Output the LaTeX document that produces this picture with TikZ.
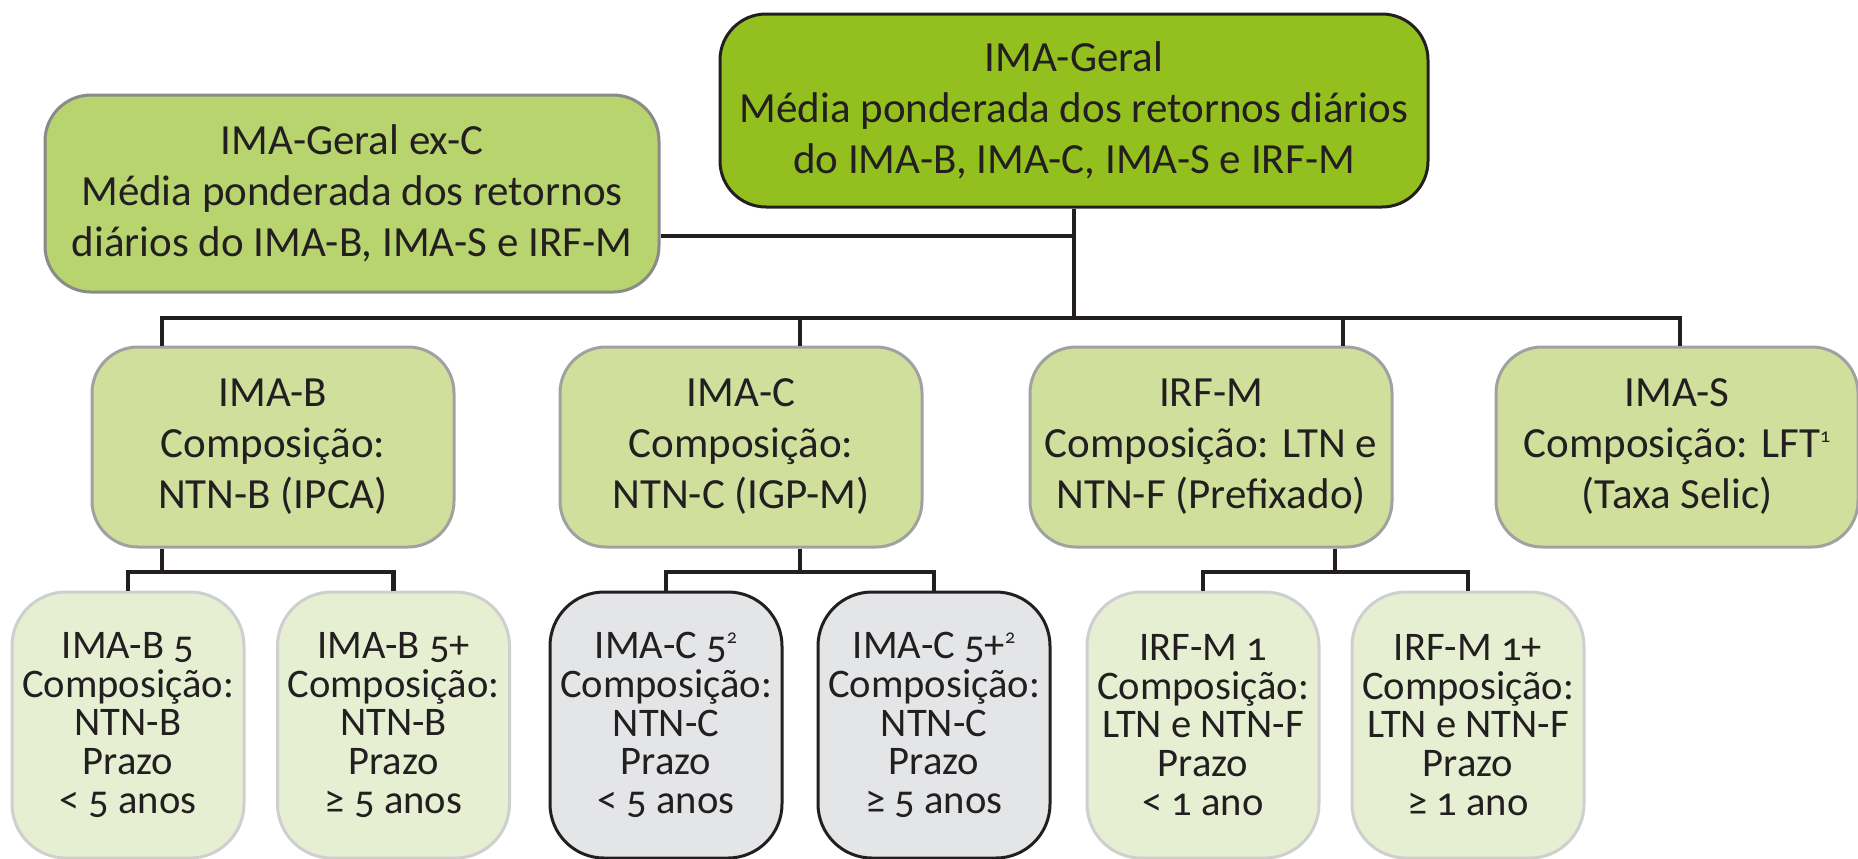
\documentclass[tikz,border=0pt]{standalone}
\usepackage{fontspec}
\setmainfont{Carlito}[Numbers=OldStyle]
\definecolor{topfill}{HTML}{93C01F}
\definecolor{excfill}{HTML}{B8D46E}
\definecolor{lvtwofill}{HTML}{D0E09C}
\definecolor{lvthreefill}{HTML}{E6EFD2}
\definecolor{grayfill}{HTML}{E4E5E7}
\definecolor{txt}{HTML}{231F20}
\definecolor{midgray}{HTML}{8A8A8A}
\definecolor{lightgray}{HTML}{CFCFCF}
\newcommand{\supnum}[1]{\raisebox{0.75ex}{\fontsize{10}{10}\selectfont #1}}
\tikzset{
  box/.style={rectangle, rounded corners=23pt, align=center, text=txt, inner sep=0pt},
  bigtext/.style={font=\fontsize{21.5}{25.5}\selectfont},
  smalltext/.style={font=\fontsize{20.3}{19.4}\selectfont},
  topbox/.style={box, bigtext, fill=topfill, draw=txt, line width=1.5pt, minimum width=354pt, minimum height=96.5pt},
  excbox/.style={box, bigtext, fill=excfill, draw=midgray, line width=1.5pt, minimum width=307pt, minimum height=98.5pt},
  lvtwo/.style={box, bigtext, fill=lvtwofill, draw=midgray!80, line width=1.5pt, minimum width=181pt, minimum height=100pt},
  lvthree/.style={box, smalltext, fill=lvthreefill, draw=lightgray, line width=1.5pt, minimum width=116pt, minimum height=133pt, rounded corners=27pt},
  graybox/.style={box, smalltext, fill=grayfill, draw=txt, line width=1.5pt, minimum width=116pt, minimum height=133pt, rounded corners=27pt},
  conn/.style={draw=txt, line width=2.4pt}
}
\begin{document}
\begin{tikzpicture}[x=0.5pt,y=-0.5pt]
\useasboundingbox (0,0) rectangle (1858,858);
% level 1
\node[topbox] (top) at (1074,110.5) {IMA-Geral\\Média ponderada dos retornos diários\\do IMA-B, IMA-C, IMA-S e IRF-M};
\node[excbox] (exc) at (352,193.5) {IMA-Geral ex-C\\Média ponderada dos retornos\\diários do IMA-B, IMA-S e IRF-M};
% level 2
\node[lvtwo] (imab) at (273,447) {IMA-B\\Composição:\\NTN-B (IPCA)};
\node[lvtwo] (imac) at (741,447) {IMA-C\\Composição:\\NTN-C (IGP-M)};
\node[lvtwo] (irfm) at (1211,447) {IRF-M\\Composição: LTN e\\NTN-F (Prefixado)};
\node[lvtwo] (imas) at (1677,447) {IMA-S\\Composição: LFT\supnum{1}\\(Taxa Selic)};
% level 3
\node[lvthree] (b5) at (128,725) {IMA-B 5\\Composição:\\NTN-B\\Prazo\\< 5 anos};
\node[lvthree] (b5p) at (393.5,725) {IMA-B 5+\\Composição:\\NTN-B\\Prazo\\≥ 5 anos};
\node[graybox] (c5) at (666,725) {IMA-C 5\supnum{2}\\Composição:\\NTN-C\\Prazo\\< 5 anos};
\node[graybox] (c5p) at (934,725) {IMA-C 5+\supnum{2}\\Composição:\\NTN-C\\Prazo\\≥ 5 anos};
\node[lvthree] (m1) at (1203,725) {IRF-M 1\\Composição:\\LTN e NTN-F\\Prazo\\< 1 ano};
\node[lvthree] (m1p) at (1468,725) {IRF-M 1+\\Composição:\\LTN e NTN-F\\Prazo\\≥ 1 ano};
% connector coordinates
\coordinate (excj) at (1074,236);
\coordinate (barL) at (162,318);
\coordinate (barC) at (800,318);
\coordinate (barM) at (1343,318);
\coordinate (barR) at (1680,318);
\coordinate (bsplit) at (162,572);
\coordinate (csplit) at (800,572);
\coordinate (msplit) at (1335,572);
% connectors
\draw[conn] (exc.east |- excj) -- (excj -| top.south);
\draw[conn] (top.south) -- (top.south |- barL);
\draw[conn] (barL |- imab.north) -- (barL) -- (barR) -- (barR |- imas.north);
\draw[conn] (barC) -- (barC |- imac.north);
\draw[conn] (barM) -- (barM |- irfm.north);
\draw[conn] (bsplit |- imab.south) -- (bsplit);
\draw[conn] (b5.north) -- (b5.north |- bsplit) -- (b5p.north |- bsplit) -- (b5p.north);
\draw[conn] (csplit |- imac.south) -- (csplit);
\draw[conn] (c5.north) -- (c5.north |- csplit) -- (c5p.north |- csplit) -- (c5p.north);
\draw[conn] (msplit |- irfm.south) -- (msplit);
\draw[conn] (m1.north) -- (m1.north |- msplit) -- (m1p.north |- msplit) -- (m1p.north);
\end{tikzpicture}
\end{document}
